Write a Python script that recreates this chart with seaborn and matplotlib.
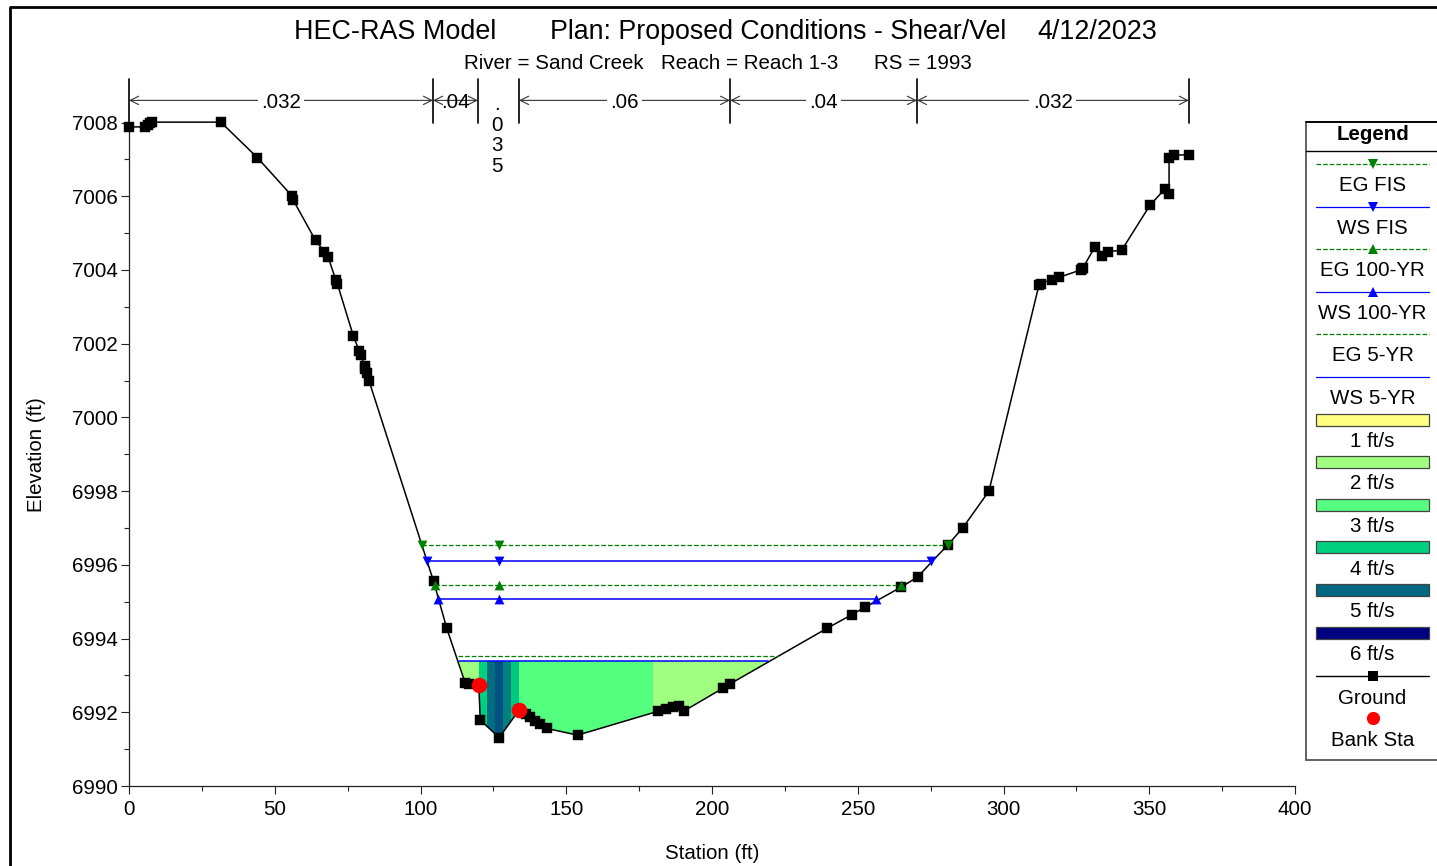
import numpy as np
import seaborn as sns
import matplotlib.pyplot as plt
from matplotlib.lines import Line2D
from matplotlib.patches import Rectangle
from matplotlib.ticker import MultipleLocator

# ground profile
station = [0, 5.5, 6.5, 7.3, 7.9, 31.5, 44, 56, 56.3, 64, 67, 68.3, 71, 71.5, 77, 79, 79.5,
           80.8, 81, 81.5, 82.3, 104.5, 109, 115.3, 116.6, 120, 120.5, 127, 133.8, 136.2,
           137.6, 139.3, 141, 143.4, 153.9, 181.6, 184.1, 186.7, 188.8, 190.5, 203.7, 206.2,
           239.5, 248, 252.5, 265, 270.5, 281, 286, 295, 312.2, 313, 316.5, 319.1, 326.5,
           326.8, 327.2, 331.4, 333.7, 335.7, 340.5, 350.2, 355.4, 356.8, 356.8, 358.5, 363.6]
elevation = [7007.88, 7007.88, 7007.93, 7007.98, 7008.01, 7008.01, 7007.05, 7006.0, 7005.9,
             7004.8, 7004.5, 7004.35, 7003.72, 7003.62, 7002.2, 7001.8, 7001.7, 7001.4,
             7001.3, 7001.2, 7001.0, 6995.55, 6994.28, 6992.8, 6992.78, 6992.73, 6991.79,
             6991.31, 6992.06, 6991.95, 6991.88, 6991.76, 6991.68, 6991.56, 6991.38, 6992.03,
             6992.08, 6992.13, 6992.17, 6992.04, 6992.65, 6992.77, 6994.28, 6994.65, 6994.85,
             6995.4, 6995.67, 6996.55, 6997.0, 6998.0, 7003.6, 7003.63, 7003.74, 7003.8,
             7004.0, 7004.02, 7004.05, 7004.63, 7004.37, 7004.5, 7004.53, 7005.75, 7006.2,
             7006.07, 7007.03, 7007.12, 7007.12]
bank_sta = [120, 133.8]
bank_elev = [6992.73, 6992.06]

# water surface profiles: name, left station, right station, elevation
profile_names = ['EG FIS', 'WS FIS', 'EG 100-YR', 'WS 100-YR', 'EG 5-YR', 'WS 5-YR']
profile_left = [100.5, 102.2, 105, 106, 113, 113.2]
profile_right = [281, 275, 264.8, 256.3, 222.6, 219.2]
profile_elev = [6996.54, 6996.1, 6995.44, 6995.08, 6993.53, 6993.39]
center_sta = 127

# velocity bands under WS 5-YR
band_edges = [113, 120, 122.7, 125.5, 128.2, 131, 133.8, 179.6, 220]
band_colors = ['#A0FF80', '#00D080', '#006E80', '#005080', '#008080', '#00C880', '#55FF80', '#A0FF80']

# mannings n
n_breaks = [0, 104.3, 119.7, 133.8, 206.2, 270.3, 363.6]
n_labels = ['.032', '.04', '.035', '.06', '.04', '.032']

legend_colors = ['#FFFF80', '#A0FF80', '#55FF80', '#00D080', '#006880', '#000080']
legend_speeds = ['1 ft/s', '2 ft/s', '3 ft/s', '4 ft/s', '5 ft/s', '6 ft/s']

W, H = 1437, 866
sns.set_theme(style='ticks', rc={'axes.labelcolor': 'black', 'xtick.labelcolor': 'black',
                                 'ytick.labelcolor': 'black', 'text.color': 'black'})
plt.rcParams['font.family'] = ['Liberation Sans', 'DejaVu Sans']
FS = 14.8

fig = plt.figure(figsize=(W / 100, H / 100), dpi=100, facecolor='white')
ax = fig.add_axes([129 / W, 1 - 786 / H, (1295 - 129) / W, (786 - 122.5) / H])
ax.set_xlim(0, 400)
ax.set_ylim(6990, 7008)

station_arr = np.array(station)
elev_arr = np.array(elevation)
ws_low = profile_elev[-1]
water = ax.fill_between(station_arr, elev_arr, ws_low, where=elev_arr < ws_low, interpolate=True,
                        color='none', linewidth=0)
water_path = water.get_paths()[0]
for left, right, col in zip(band_edges[:-1], band_edges[1:], band_colors):
    span = ax.axvspan(left, right, color=col, linewidth=0, zorder=1.2)
    span.set_clip_path(water_path, ax.transData)

sns.lineplot(x=station, y=elevation, sort=False, estimator=None, color='black', linewidth=1.1,
             marker='s', markersize=7, markeredgecolor='black', markeredgewidth=0.3, ax=ax, zorder=3,
             clip_on=False)

profile_marks = ['v', 'v', '^', '^', None, None]
for i, name in enumerate(profile_names):
    col = 'green' if name.startswith('EG') else 'blue'
    ls = '--' if name.startswith('EG') else '-'
    lw = 0.9 if name.startswith('EG') else 1.1
    xs = [profile_left[i], center_sta, profile_right[i]]
    ys = [profile_elev[i]] * 3
    sns.lineplot(x=xs, y=ys, sort=False, estimator=None, color=col, linewidth=lw, linestyle=ls, ax=ax, zorder=4)
    if profile_marks[i]:
        sns.scatterplot(x=xs, y=ys, color=col, marker=profile_marks[i], s=50, linewidth=0, ax=ax, zorder=4)

sns.scatterplot(x=bank_sta, y=bank_elev, color='#FF0000', s=125, linewidth=0, ax=ax, zorder=5)

# mannings n row above the plot
n_top, n_arrow = 7009.18, 7008.6
for x in n_breaks:
    ax.plot([x, x], [7008, n_top], color='black', lw=1.2, clip_on=False)
for i, label in enumerate(n_labels):
    mid = (n_breaks[i] + n_breaks[i + 1]) / 2
    if label == '.035':
        ax.text(mid - 0.4, 7008.75, '.\n0\n3\n5', ha='center', va='top', fontsize=FS, linespacing=1.11)
        continue
    ax.annotate('', xy=(n_breaks[i], n_arrow), xytext=(n_breaks[i + 1], n_arrow),
                arrowprops=dict(arrowstyle='<->', color='#333333', lw=0.8, shrinkA=0, shrinkB=0, mutation_scale=15),
                annotation_clip=False)
    ax.text(mid, n_arrow - 0.06, label, ha='center', va='center', fontsize=FS,
            bbox=dict(facecolor='white' if label != '.04' or i > 1 else 'none', edgecolor='none', pad=2.5))

sns.despine(ax=ax)
ax.xaxis.set_major_locator(MultipleLocator(50))
ax.xaxis.set_minor_locator(MultipleLocator(25))
ax.yaxis.set_major_locator(MultipleLocator(2))
ax.yaxis.set_minor_locator(MultipleLocator(1))
ax.tick_params(axis='both', which='major', length=5.8, width=0.8, color='#222222', labelsize=FS, pad=2)
ax.tick_params(axis='both', which='minor', length=3.6, width=0.8, color='#222222')
for side in ['left', 'bottom']:
    ax.spines[side].set_color('#222222')
    ax.spines[side].set_linewidth(0.9)
ax.tick_params(axis='x', pad=4)
ax.set_xlabel('Station (ft)', fontsize=FS)
ax.set_ylabel('Elevation (ft)', fontsize=FS)
ax.xaxis.set_label_coords(0.5, -0.088)
ax.yaxis.set_label_coords(-0.0715, 0.5)

# titles
fig.text(395 / W, 1 - 32.3 / H, 'HEC-RAS Model', ha='center', va='center', fontsize=19.4)
fig.text(778.5 / W, 1 - 32.3 / H, 'Plan: Proposed Conditions - Shear/Vel', ha='center', va='center', fontsize=19.3)
fig.text(1097 / W, 1 - 32.3 / H, '4/12/2023', ha='center', va='center', fontsize=19.4)
fig.text(554 / W, 1 - 63.7 / H, 'River = Sand Creek', ha='center', va='center', fontsize=FS)
fig.text(750 / W, 1 - 63.7 / H, 'Reach = Reach 1-3', ha='center', va='center', fontsize=FS)
fig.text(923 / W, 1 - 63.7 / H, 'RS = 1993', ha='center', va='center', fontsize=FS)

# outer frame
fig.add_artist(Line2D([10 / W, 10 / W, 1], [0, 1 - 6.5 / H, 1 - 6.5 / H], color='black', lw=2))

# legend panel, in pixel coordinates
lg = fig.add_axes([0, 0, 1, 1], facecolor='none')
lg.set_xlim(0, W)
lg.set_ylim(H, 0)
lg.axis('off')
lg.add_patch(Rectangle((1306, 122), 140, 638, facecolor='white', edgecolor='#555555', lw=1.3, clip_on=False))
lg.plot([1306, W], [122, 122], color='black', lw=1.3)
lg.plot([1306, W], [151, 151], color='black', lw=1)
lg.text(1372.5, 135, 'Legend', ha='center', va='center', fontsize=FS, fontweight='bold')
x0, x1, xm = 1316, 1429, 1372.5
step = 42.6
for i, name in enumerate(profile_names):
    y = 164 + i * step
    col = 'green' if name.startswith('EG') else 'blue'
    ls = '--' if name.startswith('EG') else '-'
    lg.plot([x0, x1], [y, y], color=col, lw=0.9, ls=ls)
    if profile_marks[i]:
        lg.plot([xm], [y], marker=profile_marks[i], color=col, ms=7, mew=0)
    lg.text(xm, y + 21.4, name, ha='center', va='center', fontsize=FS)
for i, (col, name) in enumerate(zip(legend_colors, legend_speeds)):
    y = 164 + (i + 6) * step
    lg.add_patch(Rectangle((x0, y - 6), x1 - x0, 12, facecolor=col, edgecolor='#444444', lw=0.9))
    lg.text(xm, y + 21.6, name, ha='center', va='center', fontsize=FS)
lg.plot([x0, x1], [676, 676], color='black', lw=1)
lg.plot([xm], [676], marker='s', color='black', ms=7, mew=0)
lg.text(xm, 698, 'Ground', ha='center', va='center', fontsize=FS)
lg.plot([xm], [718], marker='o', color='#FF0000', ms=9.5, mew=0)
lg.text(xm, 740, 'Bank Sta', ha='center', va='center', fontsize=FS)

fig.savefig('out.png', dpi=100)
